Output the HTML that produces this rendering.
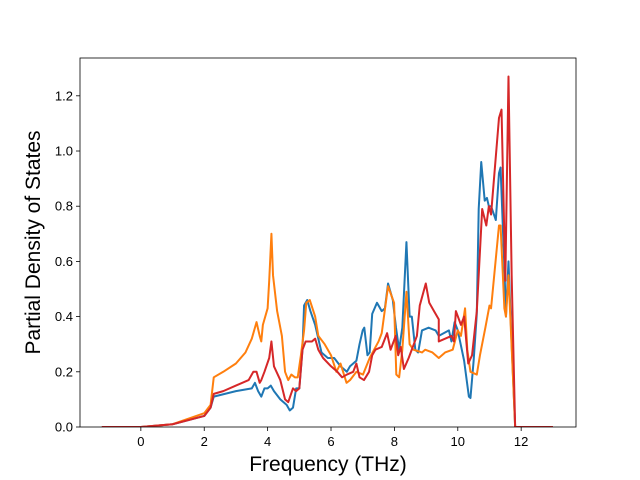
<!DOCTYPE html>
<html><head><meta charset="utf-8"><style>
body{margin:0;background:#fff;}
svg{display:block;font-family:"Liberation Sans","DejaVu Sans",sans-serif;}
</style></head><body>
<svg id="chart" width="640" height="480" viewBox="0 0 640 480"></svg>
<script>
const xTicks=[0,2,4,6,8,10,12];
const yTicks=[0.0,0.2,0.4,0.6,0.8,1.0,1.2];
const blueF=[-1.23,0,1,2.0,2.2,2.3,3.0,3.5,3.6,3.7,3.8,3.9,4.0,4.1,4.2,4.4,4.6,4.7,4.8,4.9,5.0,5.1,5.15,5.25,5.35,5.5,5.6,5.7,5.9,6.1,6.3,6.5,6.6,6.8,6.9,7.0,7.05,7.15,7.22,7.3,7.45,7.6,7.7,7.8,7.95,8.05,8.15,8.25,8.38,8.48,8.55,8.66,8.75,8.87,9.08,9.3,9.4,9.72,9.8,9.9,10.0,10.2,10.35,10.4,10.5,10.6,10.66,10.74,10.85,10.92,10.98,11.05,11.2,11.3,11.35,11.47,11.52,11.6,11.7,11.81,13.0];
const blueV=[0,0,0.01,0.04,0.07,0.11,0.13,0.14,0.16,0.13,0.11,0.14,0.14,0.15,0.13,0.1,0.08,0.06,0.07,0.14,0.14,0.28,0.44,0.46,0.42,0.37,0.32,0.27,0.25,0.25,0.22,0.2,0.22,0.24,0.3,0.35,0.36,0.26,0.27,0.41,0.45,0.42,0.43,0.52,0.46,0.36,0.28,0.36,0.67,0.4,0.4,0.28,0.27,0.35,0.36,0.35,0.33,0.35,0.31,0.38,0.35,0.24,0.11,0.105,0.24,0.41,0.79,0.96,0.82,0.83,0.8,0.8,0.75,0.92,0.94,0.58,0.4,0.6,0.3,0,0];
const orangeF=[-1.23,0,1,2.0,2.2,2.3,2.6,3.0,3.3,3.5,3.6,3.65,3.75,3.8,3.85,4.0,4.05,4.12,4.17,4.3,4.45,4.55,4.65,4.75,4.86,4.95,5.05,5.15,5.22,5.33,5.5,5.6,5.8,6.0,6.17,6.3,6.49,6.6,6.8,7.01,7.22,7.5,7.6,7.8,7.99,8.06,8.15,8.25,8.38,8.48,8.6,8.87,8.97,9.2,9.4,9.6,9.84,10.0,10.1,10.23,10.3,10.4,10.6,10.7,10.87,11.0,11.05,11.3,11.35,11.47,11.52,11.6,11.81,13.0];
const orangeV=[0,0,0.01,0.05,0.08,0.18,0.2,0.23,0.27,0.32,0.36,0.38,0.33,0.31,0.37,0.43,0.53,0.7,0.55,0.42,0.33,0.2,0.17,0.19,0.18,0.18,0.26,0.35,0.45,0.46,0.4,0.33,0.3,0.26,0.2,0.23,0.16,0.17,0.2,0.19,0.25,0.31,0.34,0.51,0.45,0.19,0.18,0.28,0.49,0.3,0.28,0.27,0.28,0.27,0.25,0.27,0.28,0.35,0.33,0.43,0.28,0.2,0.19,0.26,0.36,0.44,0.43,0.73,0.73,0.43,0.4,0.55,0,0];
const redF=[-1.23,0,1,2.0,2.2,2.3,2.6,3.0,3.4,3.55,3.65,3.75,3.8,3.9,4.05,4.12,4.2,4.4,4.55,4.65,4.8,4.9,5.0,5.1,5.2,5.4,5.5,5.6,5.75,6.0,6.2,6.35,6.5,6.7,6.8,6.9,7.04,7.2,7.3,7.4,7.6,7.77,7.88,8.04,8.12,8.2,8.3,8.45,8.71,8.8,8.99,9.1,9.25,9.4,9.4,9.6,9.8,9.88,9.94,10.1,10.2,10.33,10.45,10.6,10.77,10.9,10.98,11.05,11.3,11.38,11.5,11.6,11.7,11.81,13.0];
const redV=[0,0,0.01,0.04,0.07,0.12,0.13,0.15,0.17,0.2,0.2,0.16,0.17,0.2,0.25,0.31,0.22,0.17,0.1,0.09,0.14,0.13,0.14,0.28,0.31,0.31,0.32,0.28,0.25,0.22,0.2,0.18,0.19,0.2,0.23,0.18,0.17,0.2,0.26,0.28,0.29,0.34,0.28,0.33,0.26,0.29,0.21,0.25,0.33,0.44,0.52,0.45,0.42,0.39,0.31,0.32,0.33,0.31,0.42,0.37,0.4,0.23,0.26,0.42,0.79,0.73,0.8,0.77,1.12,1.15,0.53,1.27,0.55,0,0];

const svg=document.getElementById('chart');
const NS='http://www.w3.org/2000/svg';
const L=80,R=576,T=58,B=427;
const xMin=-1.92,xMax=13.73,yMin=0,yMax=1.337;
const sx=v=>L+(v-xMin)/(xMax-xMin)*(R-L);
const sy=v=>B-(v-yMin)/(yMax-yMin)*(B-T);
function mk(tag,attrs){const e=document.createElementNS(NS,tag);for(const k in attrs)e.setAttribute(k,attrs[k]);svg.appendChild(e);return e;}

const clip=document.createElementNS(NS,'clipPath');clip.setAttribute('id','plotclip');
const cr=document.createElementNS(NS,'rect');cr.setAttribute('x',L);cr.setAttribute('y',T);cr.setAttribute('width',R-L);cr.setAttribute('height',B-T);
clip.appendChild(cr);svg.appendChild(clip);

xTicks.forEach(t=>{
  const ln=mk('line',{x1:sx(t),x2:sx(t),y1:B,y2:B+4,stroke:'#000','stroke-width':0.8});
  
  
  const tx=mk('text',{x:sx(t),y:B+19,'text-anchor':'middle','font-size':13,fill:'#000'});
  tx.textContent=String(t);
  
  
});
yTicks.forEach(t=>{
  const ln=mk('line',{x1:L-4,x2:L,y1:sy(t),y2:sy(t),stroke:'#000','stroke-width':0.8});
  
  
  const tx=mk('text',{x:L-7,y:sy(t)+4.5,'text-anchor':'end','font-size':13,fill:'#000'});
  tx.textContent=t.toFixed(1);
  
  
});

function series(F,V,color,name){
  const d=F.map((f,i)=>(i?'L':'M')+sx(f).toFixed(2)+','+sy(V[i]).toFixed(2)).join('');
  const p=mk('path',{d:d,fill:'none',stroke:color,'stroke-width':2,'stroke-linejoin':'round','clip-path':'url(#plotclip)'});
  
  
}
series(blueF,blueV,'#1f77b4','series-blue');
series(orangeF,orangeV,'#ff7f0e','series-orange');
series(redF,redV,'#d62728','series-red');

const fr=mk('rect',{x:L,y:T,width:R-L,height:B-T,fill:'none',stroke:'#000','stroke-width':0.8});



const xl=mk('text',{x:(L+R)/2,y:471,'text-anchor':'middle','font-size':21,fill:'#000'});
xl.textContent='Frequency (THz)';


const yl=mk('text',{x:0,y:0,'text-anchor':'middle','font-size':21,fill:'#000',transform:'translate(40,'+((T+B)/2)+') rotate(-90)'});
yl.textContent='Partial Density of States';


</script>
</body></html>
